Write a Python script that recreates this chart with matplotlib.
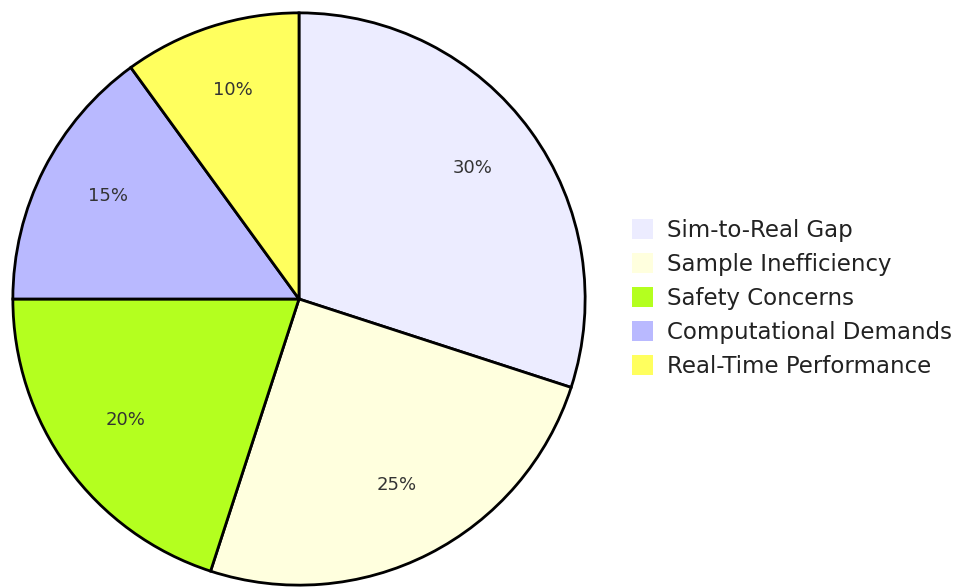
import matplotlib.pyplot as plt
from matplotlib.patches import Patch

labels = ["Sim-to-Real Gap", "Sample Inefficiency", "Safety Concerns",
          "Computational Demands", "Real-Time Performance"]
values = [30, 25, 20, 15, 10]
colors = ["#ECECFF", "#FFFFDE", "#B4FF1F", "#B9B9FF", "#FFFF5E"]

W, H = 956, 588
fig = plt.figure(figsize=(W / 100, H / 100), dpi=100)

# pie axes: centre (299, 299) px, radius 289 px
cx, cy, r = 299, 299, 289
ax = fig.add_axes([(cx - r) / W, (H - cy - r) / H, 2 * r / W, 2 * r / H])
wedges, texts, autotexts = ax.pie(
    values, colors=colors, startangle=90, counterclock=False, radius=1,
    autopct="%1.0f%%", pctdistance=0.75,
    wedgeprops=dict(edgecolor="black", linewidth=2),
    textprops=dict(color="#333333", fontsize=13, family="DejaVu Sans"))
# labels sit a few pixels higher in the original
for t in autotexts:
    x, y = t.get_position()
    t.set_position((x, y + 0.018))
ax.set_xlim(-1.01, 1.01)
ax.set_ylim(-1.01, 1.01)
ax.set_aspect("equal")
ax.axis("off")

handles = [Patch(facecolor=c, edgecolor="none") for c in colors]
fig.legend(handles, labels, loc="upper left",
           bbox_to_anchor=(623 / W, (H - 210) / H), frameon=False,
           prop=dict(family="DejaVu Sans", size=16.5), labelcolor="#222222",
           handlelength=0.9, handleheight=0.95, handletextpad=0.6,
           labelspacing=0.48, borderaxespad=0)

fig.savefig("out.png", dpi=100)
